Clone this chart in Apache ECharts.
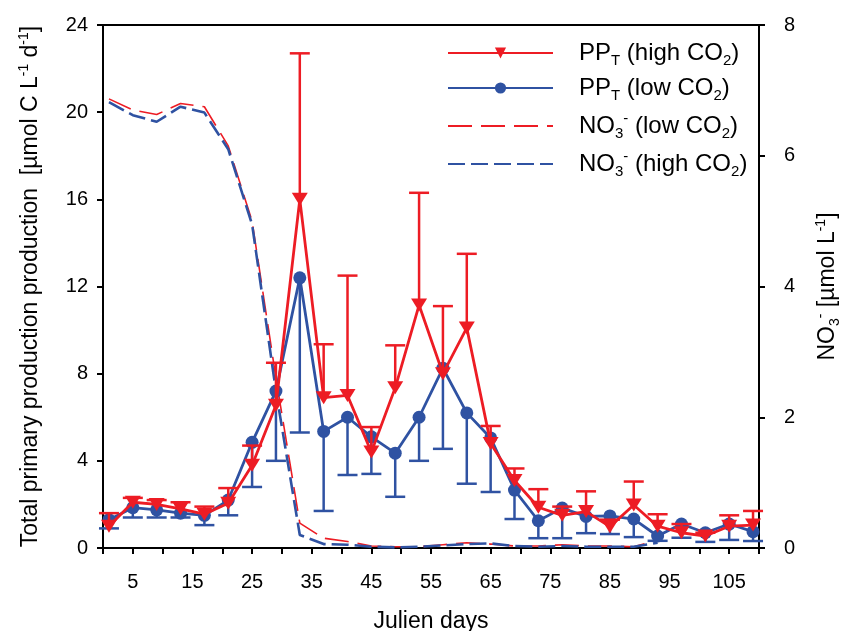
<!DOCTYPE html>
<html>
<head>
<meta charset="utf-8">
<script src="https://cdn.jsdelivr.net/npm/echarts@6/dist/echarts.min.js"></script>
<style>
  html, body { margin: 0; padding: 0; background: #fff; }
  #main { width: 848px; height: 631px; }
</style>
</head>
<body>
<div id="main"></div>
<script>
// sampling days
var ppDays = [1, 5, 9, 13, 17, 21, 25, 29, 33, 37, 41, 45, 49, 53, 57, 61, 65, 69, 73, 77, 81, 85, 89, 93, 97, 101, 105, 109];
var no3Days = [1, 5, 9, 13, 17, 21, 25, 29, 33, 37, 41, 45, 49, 53, 57, 61, 65, 69, 73, 77, 81, 85, 89, 93];

// PP_T high CO2 (mean + upper error)
var ppHigh = [1.0, 2.1, 2.0, 1.8, 1.55, 2.05, 3.8, 6.55, 16.0, 6.9, 7.0, 4.4, 7.35, 11.15, 8.0, 10.1, 4.8, 3.1, 1.87, 1.5, 1.67, 0.98, 1.97, 1.0, 0.7, 0.55, 1.0, 1.05];
var ppHighUp = [1.6, 2.3, 2.2, 2.1, 1.9, 2.75, 4.7, 8.5, 22.7, 9.35, 12.5, 5.55, 9.3, 16.3, 11.1, 13.5, 5.6, 3.65, 2.7, 1.9, 2.6, 1.3, 3.05, 1.55, 1.1, 0.7, 1.5, 1.7];

// PP_T low CO2 (mean + lower error)
var ppLow = [1.3, 1.85, 1.75, 1.6, 1.5, 2.2, 4.85, 7.2, 12.4, 5.35, 6.0, 5.1, 4.35, 6.0, 8.25, 6.2, 5.05, 2.66, 1.25, 1.83, 1.45, 1.47, 1.33, 0.55, 1.1, 0.7, 1.1, 0.75];
var ppLowDown = [0.9, 1.4, 1.4, 1.4, 1.05, 1.5, 2.8, 4.0, 5.3, 1.7, 3.35, 3.4, 2.35, 4.0, 4.55, 2.95, 2.57, 1.33, 0.45, 0.45, 0.68, 0.64, 0.5, 0.33, 0.47, 0.28, 0.37, 0.32];

// nitrate
var no3Low = [6.87, 6.7, 6.63, 6.8, 6.75, 6.15, 5.0, 2.6, 0.38, 0.15, 0.1, 0.03, 0.02, 0.02, 0.05, 0.08, 0.06, 0.03, 0.03, 0.05, 0.03, 0.03, 0.02, 0.12];
var no3High = [6.82, 6.62, 6.52, 6.75, 6.66, 6.1, 4.95, 2.4, 0.2, 0.06, 0.05, 0.02, 0.01, 0.02, 0.04, 0.06, 0.07, 0.03, 0.02, 0.03, 0.02, 0.02, 0.02, 0.08];

var RED = '#ED1C24';
var BLUE = '#2F52A2';
var FONT = "'Liberation Sans', Arial, sans-serif";

function pairs(xs, ys) {
	var out = [];
	for (var i = 0; i < xs.length; i++) {
		out.push([xs[i], ys[i]]);
	}
	return out;
}

//误差线
function errorBars(vals, ends, color, z) {
	var data = [];
	for (var i = 0; i < ppDays.length; i++) {
		data.push([ppDays[i], vals[i], ends[i]]);
	}
	return {
		type: 'custom',
		z: z,
		silent: true,
		encode: { x: 0, y: [1, 2] },
		data: data,
		renderItem: function (params, api) {
			var p0 = api.coord([api.value(0), api.value(1)]);
			var p1 = api.coord([api.value(0), api.value(2)]);
			var st = { stroke: color, lineWidth: 2.5 };
			return {
				type: 'group',
				children: [
					{ type: 'line', shape: { x1: p0[0], y1: p0[1], x2: p1[0], y2: p1[1] }, style: st },
					{ type: 'line', shape: { x1: p1[0] - 10, y1: p1[1], x2: p1[0] + 10, y2: p1[1] }, style: st }
				]
			};
		}
	};
}

var legendText = {
	'ppHigh': '{sp| }{a|PP}{b|T}{a| (high CO}{b|2}{a|)}',
	'ppLow': '{sp| }{a|PP}{b|T}{a| (low CO}{b|2}{a|)}',
	'no3Low': '{sp| }{a|NO}{b|3}{c|-}{a| (low CO}{b|2}{a|)}',
	'no3High': '{sp| }{a|NO}{b|3}{c|-}{a| (high CO}{b|2}{a|)}'
};

var richBig = {
	sp: { width: 21 },
	a: { fontSize: 24, lineHeight: 30, fontFamily: FONT, color: '#000' },
	b: { fontSize: 15, lineHeight: 12, fontFamily: FONT, color: '#000', verticalAlign: 'bottom' },
	c: { fontSize: 15, lineHeight: 12, fontFamily: FONT, color: '#000', verticalAlign: 'top' }
};

var richAxis = {
	a: { fontSize: 23, lineHeight: 28, fontFamily: FONT, color: '#000' },
	c: { fontSize: 14, lineHeight: 12, fontFamily: FONT, color: '#000', verticalAlign: 'top' },
	b: { fontSize: 14, lineHeight: 12, fontFamily: FONT, color: '#000', verticalAlign: 'bottom' }
};

var chart = echarts.init(document.getElementById('main'));

var option = {
	backgroundColor: '#fff',
	animation: false,
	grid: {
		left: 103, right: 89, top: 25, bottom: 83,
		outerBoundsMode: 'none',
		containLabel: false,
		show: true, borderColor: '#000', borderWidth: 2
	},
	legend: {
		orient: 'vertical',
		left: 442,
		top: 36,
		itemWidth: 105,
		itemHeight: 14,
		itemGap: 8,
		data: [
			{ name: 'ppHigh' },
			{ name: 'ppLow' },
			{ name: 'no3Low', itemStyle: { opacity: 0 } },
			{ name: 'no3High', itemStyle: { opacity: 0 } }
		],
		formatter: function (name) {
			return legendText[name];
		},
		textStyle: { rich: richBig }
	},
	xAxis: {
		type: 'value',
		min: 0, max: 110, interval: 5,
		name: 'Julien days',
		nameLocation: 'middle',
		nameGap: 62,
		nameTextStyle: { fontSize: 23, fontFamily: FONT, color: '#000' },
		axisLine: { lineStyle: { color: '#000', width: 2 } },
		axisTick: { length: 6, lineStyle: { color: '#000', width: 2 } },
		axisLabel: {
			fontSize: 20, fontFamily: FONT, color: '#000', margin: 24,
			formatter: function (v) { return v % 10 === 5 ? String(v) : ''; }
		},
		splitLine: { show: false }
	},
	yAxis: [{
		type: 'value',
		min: 0, max: 24, interval: 4,
		name: '{a|Total primary production production  [µmol C L}{c|-1}{a| d}{c|-1}{a|]}',
		nameLocation: 'middle',
		nameGap: 58,
		nameTextStyle: { rich: richAxis },
		axisLine: { show: true, lineStyle: { color: '#000', width: 2 } },
		axisTick: { show: true, length: 6, lineStyle: { color: '#000', width: 2 } },
		axisLabel: { fontSize: 20, fontFamily: FONT, color: '#000', margin: 15 },
		splitLine: { show: false }
	}, {
		type: 'value',
		min: 0, max: 8, interval: 2,
		position: 'right',
		name: '{a|NO}{b|3}{c|-}{a| [µmol L}{c|-1}{a|]}',
		nameLocation: 'middle',
		nameGap: 55,
		nameTextStyle: { rich: richAxis },
		axisLine: { show: true, lineStyle: { color: '#000', width: 2 } },
		axisTick: { show: true, length: 6, lineStyle: { color: '#000', width: 2 } },
		axisLabel: { fontSize: 20, fontFamily: FONT, color: '#000', margin: 25 },
		splitLine: { show: false }
	}],
	series: [
		{
			name: 'no3Low', type: 'line', yAxisIndex: 1, z: 2,
			data: pairs(no3Days, no3Low),
			symbol: 'none',
			lineStyle: { color: RED, width: 1.6, type: [24, 9] },
			itemStyle: { color: RED }
		},
		{
			name: 'no3High', type: 'line', yAxisIndex: 1, z: 2,
			data: pairs(no3Days, no3High),
			symbol: 'none',
			lineStyle: { color: BLUE, width: 2.6, type: [17, 6] },
			itemStyle: { color: BLUE }
		},
		errorBars(ppLow, ppLowDown, BLUE, 3),
		{
			name: 'ppLow', type: 'line', z: 4,
			data: pairs(ppDays, ppLow),
			symbol: 'circle', symbolSize: 13,
			lineStyle: { color: BLUE, width: 2.8 },
			itemStyle: { color: BLUE }
		},
		errorBars(ppHigh, ppHighUp, RED, 5),
		{
			name: 'ppHigh', type: 'line', z: 6,
			data: pairs(ppDays, ppHigh),
			symbol: 'triangle', symbolRotate: 180, symbolSize: [16, 13],
			lineStyle: { color: RED, width: 2.8 },
			itemStyle: { color: RED }
		}
	]
};

chart.setOption(option);
</script>
</body>
</html>
